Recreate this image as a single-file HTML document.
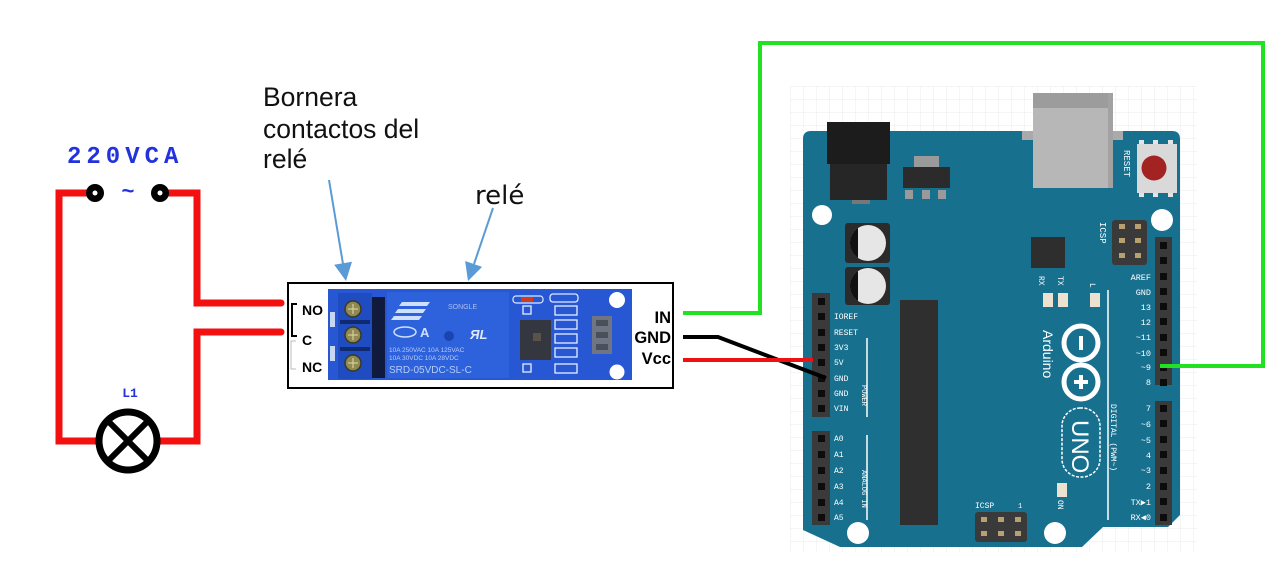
<!DOCTYPE html>
<html><head><meta charset="utf-8">
<style>
html,body{margin:0;padding:0;background:#fff;}
body{width:1285px;height:573px;overflow:hidden;position:relative;}
svg{position:absolute;left:0;top:0;}
</style></head><body>
<svg width="1285" height="573" viewBox="0 0 1285 573" xmlns="http://www.w3.org/2000/svg">
<defs>
<pattern id="grid" width="13" height="13" patternUnits="userSpaceOnUse" x="790" y="86">
<path d="M13 0 L0 0 0 13" fill="none" stroke="#e8ebef" stroke-width="1"/>
</pattern>
</defs>
<rect x="0" y="0" width="1285" height="573" fill="#fff"/>
<rect x="790" y="86" width="407" height="466" fill="url(#grid)"/>

<!-- ===== Left AC circuit ===== -->
<g stroke="#f21010" stroke-width="7" fill="none" stroke-linejoin="miter" stroke-linecap="round">
<polyline points="95,193 59,193 59,441 100,441"/>
<polyline points="160,193 197,193 197,303 281,303"/>
<polyline points="281,332 197,332 197,441 158,441"/>
</g>
<circle cx="95" cy="193" r="9" fill="#000"/><circle cx="95" cy="193" r="2.5" fill="#fff"/>
<circle cx="160" cy="193" r="9" fill="#000"/><circle cx="160" cy="193" r="2.5" fill="#fff"/>
<circle cx="128" cy="441" r="29" fill="#fff" stroke="#000" stroke-width="7"/>
<line x1="108" y1="421" x2="148" y2="461" stroke="#000" stroke-width="6"/>
<line x1="148" y1="421" x2="108" y2="461" stroke="#000" stroke-width="6"/>
<text x="67" y="163" font-family="Liberation Mono, monospace" font-weight="bold" font-size="24" letter-spacing="5" fill="#2233dd">220VCA</text>
<text x="128" y="198" text-anchor="middle" font-family="Liberation Mono, monospace" font-weight="bold" font-size="22" fill="#2233dd">~</text>
<text x="130" y="397" text-anchor="middle" font-family="Liberation Mono, monospace" font-weight="bold" font-size="13" fill="#2233dd">L1</text>

<!-- ===== Labels & arrows ===== -->
<g font-family="Liberation Sans, Arial, sans-serif" font-size="26.5" fill="#111">
<text x="263" y="106">Bornera</text>
<text x="263" y="138">contactos del</text>
<text x="263" y="168">relé</text>
</g>
<text x="475" y="204" font-family="DejaVu Sans, sans-serif" font-size="26" fill="#111">relé</text>
<line x1="329" y1="180" x2="343" y2="264" stroke="#5b9bd5" stroke-width="2"/>
<polygon points="346,281 352,261.7 334.2,264.7" fill="#5b9bd5"/>
<line x1="493" y1="208" x2="474" y2="264" stroke="#5b9bd5" stroke-width="2"/>
<polygon points="468,281 482.1,266.9 465.1,261" fill="#5b9bd5"/>

<!-- ===== Relay module ===== -->
<rect x="288" y="283" width="385" height="105" fill="#fff" stroke="#000" stroke-width="2"/>
<rect x="328" y="289" width="304" height="91" fill="#2757d2"/>
<rect x="338" y="293" width="34" height="86" fill="#1f4cc0"/>
<rect x="330" y="312" width="5" height="15" fill="#c8d6f5"/>
<rect x="330" y="346" width="5" height="15" fill="#c8d6f5"/>
<g fill="#8f8a55" stroke="#3a3a20" stroke-width="1.5">
<circle cx="353" cy="309" r="8"/><circle cx="353" cy="335" r="8"/><circle cx="353" cy="363" r="8"/>
</g>
<g stroke="#d8d090" stroke-width="1.2">
<line x1="348" y1="309" x2="358" y2="309"/><line x1="353" y1="304" x2="353" y2="314"/>
<line x1="348" y1="335" x2="358" y2="335"/><line x1="353" y1="330" x2="353" y2="340"/>
<line x1="348" y1="363" x2="358" y2="363"/><line x1="353" y1="358" x2="353" y2="368"/>
</g>
<rect x="340" y="320" width="30" height="4" fill="#0f2a70"/>
<rect x="340" y="347" width="30" height="4" fill="#0f2a70"/>
<rect x="372" y="297" width="13" height="81" fill="#0f1a3c"/>
<rect x="387" y="292" width="122" height="86" fill="#2d62dc"/>
<g fill="#cfe0ff">
<polygon points="402,302 430,302 427,306 399,306"/>
<polygon points="398,309 426,309 423,313 395,313"/>
<polygon points="394,316 422,316 419,320 391,320"/>
</g>
<text x="448" y="309" font-family="Liberation Sans, sans-serif" font-size="7" fill="#a8c0f0">SONGLE</text>
<ellipse cx="405" cy="332" rx="11" ry="5" fill="none" stroke="#cfe0ff" stroke-width="1.5"/>
<text x="420" y="337" font-family="Liberation Sans, sans-serif" font-weight="bold" font-size="13" fill="#cfe0ff">A</text>
<circle cx="449" cy="336" r="5" fill="#1a45b0"/>
<text x="470" y="339" font-family="Liberation Sans, sans-serif" font-weight="bold" font-style="italic" font-size="13" fill="#dfe8ff">ЯL</text>
<g font-family="Liberation Sans, sans-serif" fill="#b8ccf5">
<text x="389" y="352" font-size="6.5">10A 250VAC 10A 125VAC</text>
<text x="389" y="360" font-size="6.5">10A 30VDC 10A 28VDC</text>
<text x="389" y="373" font-size="10">SRD-05VDC-SL-C</text>
</g>
<rect x="513" y="296" width="30" height="7" rx="3" fill="none" stroke="#e0e8ff" stroke-width="1.2"/>
<rect x="521" y="297" width="12" height="5" fill="#d23c1c"/>
<rect x="550" y="294" width="28" height="8" rx="3" fill="none" stroke="#e0e8ff" stroke-width="1.3"/>
<rect x="520" y="320" width="31" height="40" fill="#34373f"/>
<rect x="533" y="333" width="8" height="8" fill="#5a5448"/>
<g fill="none" stroke="#e8eeff" stroke-width="1.3">
<rect x="555" y="306" width="22" height="9"/>
<rect x="555" y="320" width="22" height="9"/>
<rect x="555" y="334" width="22" height="9"/>
<rect x="555" y="348" width="22" height="9"/>
<rect x="555" y="364" width="22" height="9"/>
<rect x="523" y="306" width="8" height="8"/>
<rect x="523" y="364" width="8" height="8"/>
</g>
<rect x="592" y="316" width="20" height="38" fill="#6f7582"/>
<rect x="596" y="320" width="12" height="6" fill="#4a4f5a"/>
<rect x="596" y="332" width="12" height="6" fill="#4a4f5a"/>
<rect x="596" y="344" width="12" height="6" fill="#4a4f5a"/>
<circle cx="617" cy="300" r="8" fill="#fff"/>
<circle cx="617" cy="372" r="7.5" fill="#fff"/>
<g font-family="Liberation Sans, Arial, sans-serif" font-weight="bold" font-size="14" fill="#000">
<text x="302" y="315">NO</text>
<text x="302" y="345">C</text>
<text x="302" y="372">NC</text>
</g>
<path d="M297 304 H292 V336 H297" fill="none" stroke="#000" stroke-width="2"/>
<path d="M296 341 H291 V369 H296" fill="none" stroke="#bbb" stroke-width="1"/>
<g font-family="Liberation Sans, Arial, sans-serif" font-weight="bold" font-size="16.5" fill="#000" text-anchor="end">
<text x="671" y="323">IN</text>
<text x="671" y="343">GND</text>
<text x="671" y="364">Vcc</text>
</g>

<!-- ===== Arduino board ===== -->
<path d="M811 131 H1172 Q1180 131 1180 139 V515 L1168 527 H1103 L1082 547 H840 L803 530 V139 Q803 131 811 131 Z" fill="#17708e"/>
<!-- DC jack -->
<rect x="827" y="122" width="63" height="42" fill="#1c1c1c"/>
<rect x="830" y="164" width="57" height="36" fill="#262626"/>
<rect x="852" y="200" width="18" height="4" fill="#777"/>
<!-- regulator -->
<rect x="914" y="156" width="25" height="11" fill="#9a9a9a"/>
<rect x="903" y="167" width="47" height="21" fill="#2b2b2b"/>
<rect x="905" y="190" width="8" height="9" fill="#9a9a9a"/>
<rect x="922" y="190" width="8" height="9" fill="#9a9a9a"/>
<rect x="938" y="190" width="8" height="9" fill="#9a9a9a"/>
<!-- USB -->
<rect x="1022" y="131" width="11" height="9" fill="#aaa"/>
<rect x="1113" y="131" width="10" height="9" fill="#aaa"/>
<rect x="1033" y="93" width="80" height="95" fill="#b7b7b7"/>
<rect x="1033" y="93" width="80" height="15" fill="#9c9c9c"/>
<rect x="1108" y="93" width="5" height="95" fill="#a2a2a2"/>
<!-- reset -->
<g fill="#e4e4e4">
<rect x="1139" y="140" width="5" height="5"/><rect x="1153" y="140" width="5" height="5"/><rect x="1168" y="140" width="5" height="5"/>
<rect x="1139" y="192" width="5" height="5"/><rect x="1153" y="192" width="5" height="5"/><rect x="1168" y="192" width="5" height="5"/>
</g>
<rect x="1137" y="144" width="40" height="49" fill="#d9d9d9"/>
<circle cx="1154" cy="168" r="12.5" fill="#a32222"/>
<text transform="translate(1124,150) rotate(90)" font-family="Liberation Mono, monospace" font-size="9" fill="#fff">RESET</text>
<!-- holes -->
<circle cx="822" cy="215" r="10" fill="#fff"/>
<circle cx="1162" cy="220" r="11" fill="#fff"/>
<circle cx="858" cy="533" r="11" fill="#fff"/>
<circle cx="1055" cy="533" r="11" fill="#fff"/>
<!-- capacitors -->
<rect x="845" y="223" width="45" height="40" rx="3" fill="#2b2b2b"/>
<circle cx="868" cy="243" r="18" fill="#e6e6e6"/>
<path d="M858 228 A18 18 0 0 0 858 258 Z" fill="#111"/>
<rect x="845" y="267" width="45" height="38" rx="3" fill="#2b2b2b"/>
<circle cx="868" cy="286" r="18" fill="#e6e6e6"/>
<path d="M858 271 A18 18 0 0 0 858 301 Z" fill="#111"/>
<!-- small chip -->
<rect x="1031" y="237" width="34" height="31" fill="#2e2e2e"/>
<!-- ICSP top -->
<rect x="1112" y="220" width="35" height="45" rx="3" fill="#3a3a3a"/>
<g fill="#b8a070">
<rect x="1119" y="224" width="6" height="5"/><rect x="1135" y="224" width="6" height="5"/>
<rect x="1119" y="238" width="6" height="5"/><rect x="1135" y="238" width="6" height="5"/>
<rect x="1119" y="253" width="6" height="5"/><rect x="1135" y="253" width="6" height="5"/>
</g>
<text transform="translate(1100,222) rotate(90)" font-family="Liberation Mono, monospace" font-size="9" fill="#fff">ICSP</text>
<!-- RX TX L -->
<g font-family="Liberation Mono, monospace" font-size="8" fill="#fff">
<text transform="translate(1039,276) rotate(90)">RX</text>
<text transform="translate(1058,276) rotate(90)">TX</text>
<text transform="translate(1090,283) rotate(90)">L</text>
</g>
<g fill="#ece2cf">
<rect x="1043" y="293" width="10" height="14"/>
<rect x="1058" y="293" width="10" height="14"/>
<rect x="1090" y="293" width="10" height="14"/>
<rect x="1057" y="483" width="10" height="14"/>
</g>
<!-- big chip -->
<rect x="900" y="300" width="38" height="225" fill="#2f2f2f"/>
<!-- logo -->
<circle cx="1081" cy="343" r="17" fill="none" stroke="#fff" stroke-width="5"/>
<circle cx="1081" cy="382" r="17" fill="none" stroke="#fff" stroke-width="5"/>
<rect x="1079" y="336" width="4" height="14" fill="#fff"/>
<rect x="1079" y="375" width="4" height="14" fill="#fff"/>
<rect x="1074" y="380" width="14" height="4" fill="#fff"/>
<text transform="translate(1043,330) rotate(90)" font-family="Liberation Sans, sans-serif" font-size="14" fill="#fff">Arduino</text>
<rect x="1062" y="408" width="38" height="69" rx="18" fill="none" stroke="#fff" stroke-width="1.5" stroke-dasharray="3,1.5"/>
<text transform="translate(1072,420) rotate(90)" font-family="Liberation Sans, sans-serif" font-size="24" fill="#fff">UNO</text>
<text transform="translate(1058,500) rotate(90)" font-family="Liberation Mono, monospace" font-size="8" fill="#fff">ON</text>
<!-- ICSP bottom -->
<rect x="975" y="512" width="52" height="30" rx="3" fill="#3a3a3a"/>
<g fill="#b8a070">
<rect x="981" y="517" width="6" height="5"/><rect x="998" y="517" width="6" height="5"/><rect x="1015" y="517" width="6" height="5"/>
<rect x="981" y="531" width="6" height="5"/><rect x="998" y="531" width="6" height="5"/><rect x="1015" y="531" width="6" height="5"/>
</g>
<text x="975" y="508" font-family="Liberation Mono, monospace" font-size="8" fill="#fff">ICSP</text>
<text x="1018" y="508" font-family="Liberation Mono, monospace" font-size="7" fill="#fff">1</text>
<!-- right headers -->
<rect x="1155" y="237" width="17" height="148" fill="#3a3a3a"/>
<rect x="1155" y="401" width="17" height="124" fill="#3a3a3a"/>
<g fill="#0c0c0c">
<rect x="1160" y="242" width="7" height="7"/><rect x="1160" y="257" width="7" height="7"/>
<rect x="1160" y="273" width="7" height="7"/><rect x="1160" y="288" width="7" height="7"/>
<rect x="1160" y="303" width="7" height="7"/><rect x="1160" y="318" width="7" height="7"/>
<rect x="1160" y="334" width="7" height="7"/><rect x="1160" y="349" width="7" height="7"/>
<rect x="1160" y="364" width="7" height="7"/><rect x="1160" y="379" width="7" height="7"/>
<rect x="1160" y="405" width="7" height="7"/><rect x="1160" y="420" width="7" height="7"/>
<rect x="1160" y="436" width="7" height="7"/><rect x="1160" y="451" width="7" height="7"/>
<rect x="1160" y="467" width="7" height="7"/><rect x="1160" y="483" width="7" height="7"/>
<rect x="1160" y="498" width="7" height="7"/><rect x="1160" y="514" width="7" height="7"/>
</g>
<g font-family="Liberation Mono, monospace" font-size="8.5" fill="#fff" text-anchor="end">
<text x="1151" y="280">AREF</text><text x="1151" y="295">GND</text>
<text x="1151" y="310">13</text><text x="1151" y="325">12</text>
<text x="1151" y="340">~11</text><text x="1151" y="356">~10</text>
<text x="1151" y="370">~9</text><text x="1151" y="385">8</text>
<text x="1151" y="411">7</text><text x="1151" y="427">~6</text>
<text x="1151" y="443">~5</text><text x="1151" y="458">4</text>
<text x="1151" y="473">~3</text><text x="1151" y="489">2</text>
<text x="1151" y="505">TX▶1</text><text x="1151" y="520">RX◀0</text>
</g>
<line x1="1108" y1="290" x2="1108" y2="520" stroke="#fff" stroke-width="1.5"/>
<text transform="translate(1111,404) rotate(90)" font-family="Liberation Mono, monospace" font-size="8" fill="#fff">DIGITAL (PWM~)</text>
<!-- left headers -->
<rect x="812" y="293" width="18" height="124" fill="#3a3a3a"/>
<rect x="812" y="431" width="18" height="94" fill="#3a3a3a"/>
<g fill="#0c0c0c">
<rect x="818" y="298" width="7" height="7"/><rect x="818" y="313" width="7" height="7"/>
<rect x="818" y="329" width="7" height="7"/><rect x="818" y="344" width="7" height="7"/>
<rect x="818" y="359" width="7" height="7"/><rect x="818" y="375" width="7" height="7"/>
<rect x="818" y="390" width="7" height="7"/><rect x="818" y="405" width="7" height="7"/>
<rect x="818" y="435" width="7" height="7"/><rect x="818" y="451" width="7" height="7"/>
<rect x="818" y="467" width="7" height="7"/><rect x="818" y="483" width="7" height="7"/>
<rect x="818" y="499" width="7" height="7"/><rect x="818" y="514" width="7" height="7"/>
</g>
<g font-family="Liberation Mono, monospace" font-size="8" fill="#fff">
<text x="834" y="319">IOREF</text><text x="834" y="335">RESET</text>
<text x="834" y="350">3V3</text><text x="834" y="365">5V</text>
<text x="834" y="381">GND</text><text x="834" y="396">GND</text>
<text x="834" y="411">VIN</text>
<text x="834" y="441">A0</text><text x="834" y="457">A1</text>
<text x="834" y="473">A2</text><text x="834" y="489">A3</text>
<text x="834" y="505">A4</text><text x="834" y="520">A5</text>
</g>
<line x1="867" y1="338" x2="867" y2="417" stroke="#fff" stroke-width="1.5"/>
<line x1="867" y1="435" x2="867" y2="520" stroke="#fff" stroke-width="1.5"/>
<text transform="translate(862,385) rotate(90)" font-family="Liberation Mono, monospace" font-size="7" fill="#fff">POWER</text>
<text transform="translate(862,470) rotate(90)" font-family="Liberation Mono, monospace" font-size="7" fill="#fff">ANALOG IN</text>

<!-- ===== Wires to Arduino ===== -->
<polyline points="683,313 760,313 760,43 1263,43 1263,366 1160,366" fill="none" stroke="#22e022" stroke-width="4" stroke-linejoin="miter"/>
<polyline points="683,337 718,337 826,378" fill="none" stroke="#000" stroke-width="4"/>
<line x1="683" y1="360" x2="813" y2="360" stroke="#ee1111" stroke-width="4"/>
</svg>
</body></html>
